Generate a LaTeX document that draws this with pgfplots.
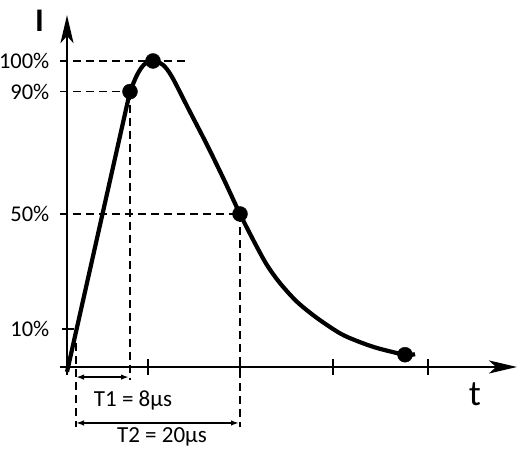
\documentclass[border=0pt]{standalone}
\usepackage{pgfplots}
\pgfplotsset{compat=1.18}
\usepackage{fontspec}
\setmainfont{Carlito}
\usetikzlibrary{arrows.meta}
\tikzset{lbl/.style={anchor=east, inner sep=0pt, font=\fontsize{22.5}{27}\selectfont}}
\pgfplotsset{dsh/.style={black, line width=1.7pt, dash pattern=on 8pt off 5pt}}
\begin{document}
\begin{tikzpicture}
\begin{axis}[name=ax, x=1pt, y=3.06pt, xmin=-67, xmax=458, ymin=-28.76, ymax=119.93,
  hide axis, clip=false]
% dashed guide lines
\addplot[dsh] coordinates {(-7,100) (118,100)};
\addplot[dsh] coordinates {(-7,90) (63,90)};
\addplot[dsh] coordinates {(-7,50) (173,50)};
\addplot[dsh] coordinates {(63,90) (63,-4.2)};
\addplot[dsh] coordinates {(9,12) (9,-19.6)};
\addplot[dsh] coordinates {(173,50) (173,-19.6)};
% axes
\addplot[black, line width=2.3pt, -{Stealth[length=28pt,width=13pt,inset=7pt]}] coordinates {(-7,0) (450,0)};
\addplot[black, line width=2.3pt, -{Stealth[length=28pt,width=13pt,inset=7pt]}] coordinates {(0,-2.6) (0,115)};
% ticks
\addplot[black, line width=1.7pt] coordinates {(-5,12.4) (7,12.4)};
\addplot[black, line width=1.7pt] coordinates {(81,-2.7) (81,2.7)};
\addplot[black, line width=1.7pt] coordinates {(173,-2.7) (173,2.7)};
\addplot[black, line width=1.7pt] coordinates {(266,-2.7) (266,2.7)};
\addplot[black, line width=1.7pt] coordinates {(361,-2.7) (361,2.7)};
% dimension arrows
\addplot[black, line width=1.6pt, {Latex[length=8pt,width=5.5pt]}-{Latex[length=8pt,width=5.5pt]}] coordinates {(9,-3.3) (62,-3.3)};
\addplot[black, line width=1.6pt, {Latex[length=8pt,width=5.5pt]}-{Latex[length=8pt,width=5.5pt]}] coordinates {(9,-18.3) (172,-18.3)};
% waveform
\addplot[black, line width=4.2pt] coordinates {(0,-1.6) (63,90)};
\addplot[black, line width=4.2pt, smooth] coordinates {
(63,90) (70,95.4) (77,98.8) (86,100) (96,98.7) (105,94.8) (122,84) (140,72.6) (157,61.2) (173,50)
(188,40.4) (200,33.3) (213,27.4) (230,21.3) (250,16.0) (273,11.0) (290,8.5) (310,6.2) (338,4.0) (348,4.2)};
% points
\addplot[only marks, mark=*, mark size=7.5pt, black] coordinates {(63,90) (86,100) (173,50) (338,4.0)};
% labels
\node[lbl] at (axis cs:-17.5,100) {100\%};
\node[lbl] at (axis cs:-17.5,90) {90\%};
\node[lbl] at (axis cs:-17.5,50) {50\%};
\node[lbl] at (axis cs:-17.5,12.4) {10\%};
\node[font=\fontsize{23}{27}\selectfont] at (axis cs:66,-10.8) {T1 = 8µs};
\node[font=\fontsize{23}{27}\selectfont] at (axis cs:95,-22.9) {T2 = 20µs};
\node[font=\bfseries\fontsize{33}{38}\selectfont] at (axis cs:-27.5,113.2) {I};
\node[font=\fontsize{36}{40}\selectfont] at (axis cs:408,-8.8) {t};
\end{axis}
\pgfresetboundingbox
\path[use as bounding box] (ax.south west) rectangle (ax.north east);
\end{tikzpicture}
\end{document}
